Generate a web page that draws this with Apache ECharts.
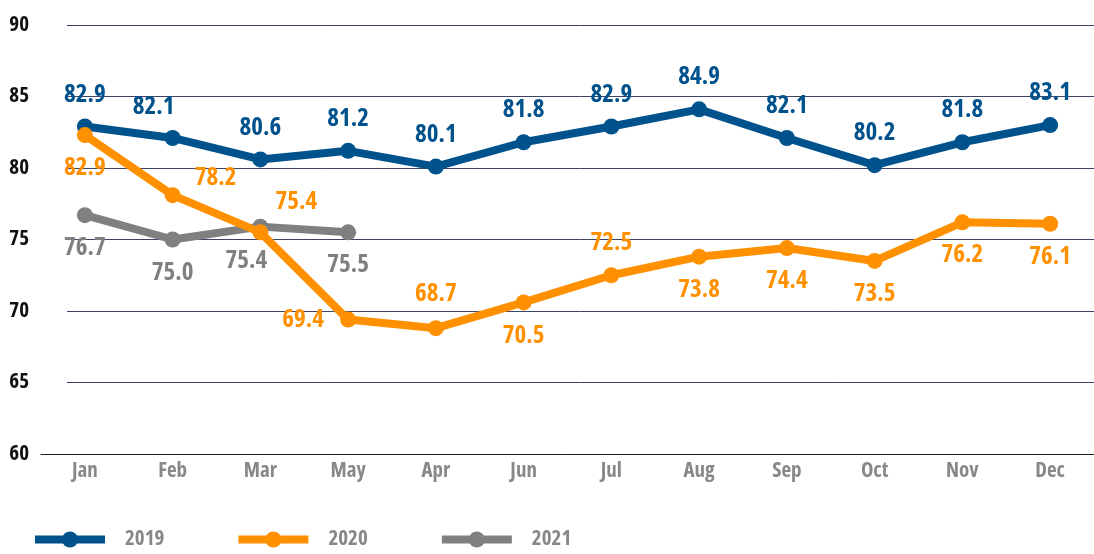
<!DOCTYPE html>
<html>
<head>
<meta charset="utf-8">
<script src="https://cdn.jsdelivr.net/npm/echarts@6/dist/echarts.min.js"></script>
<style>
  html, body { margin: 0; padding: 0; background: #fff; }
  #chart { width: 1094px; height: 554px; }
</style>
</head>
<body>
<div id="chart"></div>
<script>
  // data
  var months = ['Jan', 'Feb', 'Mar', 'May', 'Apr', 'Jun', 'Jul', 'Aug', 'Sep', 'Oct', 'Nov', 'Dec']
  var years = ['2019', '2020', '2021']
  var values2019 = [82.9, 82.1, 80.6, 81.2, 80.1, 81.8, 82.9, 84.1, 82.1, 80.2, 81.8, 83.0]
  var values2020 = [82.3, 78.1, 75.5, 69.4, 68.8, 70.6, 72.5, 73.8, 74.4, 73.5, 76.2, 76.1]
  var values2021 = [76.7, 75.0, 75.9, 75.5]
  // printed labels (a few differ from where the point sits)
  var labels2019 = ['82.9', '82.1', '80.6', '81.2', '80.1', '81.8', '82.9', '84.9', '82.1', '80.2', '81.8', '83.1']
  var labels2020 = ['82.9', '78.2', '75.4', '69.4', '68.7', '70.5', '72.5', '73.8', '74.4', '73.5', '76.2', '76.1']
  var labels2021 = ['76.7', '75.0', '75.4', '75.5']
  var yTicks = { min: 60, max: 90, step: 5 }

  // Open Sans has a width axis, "condensed" goes into the canvas font string
  var font = '"Open Sans", sans-serif'
  var stretch = 'condensed'
  var colors = ['#00528c', '#ff9000', '#808080']

  // label offsets from the point centre
  var up = [0, -32], down = [0, 33]
  var offs2019 = [up, [-19, -31], up, up, up, up, up, up, up, up, up, up]
  var offs2020 = [down, [43, -17], [36, -30], [-45, 0], [0, -34], down, up, down, down, down, down, down]
  var offs2021 = [down, down, [-14, 34], down]

  function build(vals, labels, offs) {
    let out = []
    for (let i in vals) {
      out.push({
        value: vals[i],
        label: { offset: offs[i], formatter: labels[i] }
      })
    }
    return out
  }

  function lineSeries(name, vals, labels, offs, color, z) {
    return {
      name: name,
      type: 'line',
      xAxisIndex: 0,
      yAxisIndex: 0,
      z: z,
      symbol: 'circle',
      symbolSize: 16,
      itemStyle: { color: color },
      lineStyle: { color: color, width: 8 },
      emphasis: { disabled: true },
      label: {
        show: true,
        position: 'inside',
        color: color,
        fontFamily: font,
        fontStyle: stretch,
        fontWeight: 'bold',
        fontSize: 25
      },
      data: build(vals, labels, offs)
    }
  }

  var chart = echarts.init(document.getElementById('chart'))
  chart.setOption({
    animation: false,
    grid: [
      { left: 41, right: 0, top: 25, bottom: 100 },
      { left: 67, right: 0, top: 25, bottom: 100 }
    ],
    legend: {
      left: 26,
      top: 524,
      itemWidth: 70,
      itemHeight: 20,
      itemGap: 70,
      lineStyle: { width: 8 },
      textStyle: {
        color: '#888',
        fontFamily: font,
        fontStyle: stretch,
        fontWeight: 'bold',
        fontSize: 21,
        padding: [0, 0, 0, 15]
      },
      data: years
    },
    xAxis: [{
      type: 'category',
      gridIndex: 0,
      data: months,
      axisLine: { lineStyle: { color: '#222', width: 1 } },
      axisTick: { length: 13, lineStyle: { color: '#222' }, interval: 0 },
      axisLabel: {
        color: '#888',
        fontFamily: font,
        fontStyle: stretch,
        fontWeight: 'bold',
        fontSize: 21,
        margin: 7
      }
    }, {
      type: 'category',
      gridIndex: 1,
      data: months,
      show: false
    }],
    yAxis: [{
      type: 'value',
      gridIndex: 0,
      min: yTicks.min,
      max: yTicks.max,
      interval: yTicks.step,
      axisLine: { show: false },
      axisTick: { show: false },
      splitLine: { show: false },
      axisLabel: {
        color: '#111',
        fontFamily: font,
        fontStyle: stretch,
        fontWeight: 'bold',
        fontSize: 21,
        margin: 12
      }
    }, {
      type: 'value',
      gridIndex: 1,
      min: yTicks.min,
      max: yTicks.max,
      interval: yTicks.step,
      axisLine: { show: false },
      axisTick: { show: false },
      axisLabel: { show: false },
      splitLine: { lineStyle: { color: '#3d4566', width: 1 } }
    }],
    series: [
      lineSeries(years[0], values2019, labels2019, offs2019, colors[0], 2),
      lineSeries(years[1], values2020, labels2020, offs2020, colors[1], 4),
      lineSeries(years[2], values2021, labels2021, offs2021, colors[2], 3)
    ]
  })
  window.addEventListener('resize', () => {
    chart.resize()
  })
</script>
</body>
</html>
